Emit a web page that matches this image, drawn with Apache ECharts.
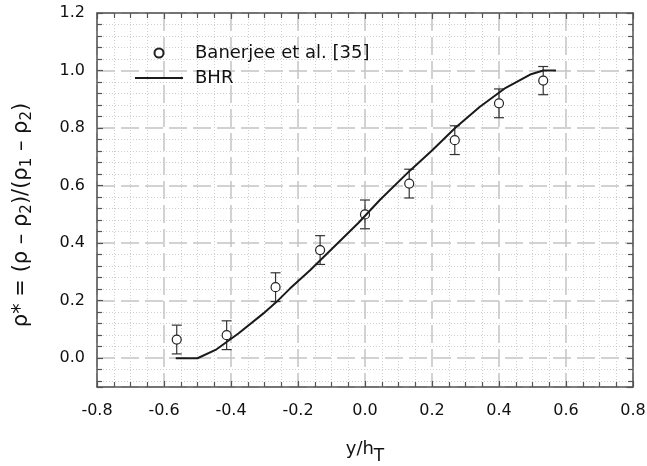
<!DOCTYPE html>
<html><head><meta charset="utf-8">
<script src="https://cdn.jsdelivr.net/npm/echarts@6/dist/echarts.min.js"></script>
<style>html,body{margin:0;padding:0;background:#fff}#c{width:647px;height:466px}</style>
</head><body><div id="c"></div>
<script>
// Experimental data (Banerjee et al. [35]) with error bars
const expX = [-0.562, -0.413, -0.267, -0.134, 0.0, 0.132, 0.268, 0.400, 0.532];
const expY = [0.065, 0.080, 0.247, 0.376, 0.500, 0.607, 0.758, 0.886, 0.965];
const expErr = [0.05, 0.05, 0.05, 0.05, 0.05, 0.05, 0.05, 0.05, 0.049];
// BHR model curve
const bhrX = [-0.565, -0.500, -0.443, -0.378, -0.304, -0.264, -0.224, -0.164, -0.090, -0.020, 0.045, 0.134, 0.200, 0.269, 0.343, 0.420, 0.493, 0.532, 0.570];
const bhrY = [0.000, 0.000, 0.031, 0.086, 0.155, 0.196, 0.242, 0.306, 0.390, 0.470, 0.551, 0.652, 0.722, 0.800, 0.874, 0.940, 0.986, 1.000, 1.000];
// Axis ranges
const xRange = [-0.8, 0.8];
const yRange = [-0.1, 1.2];
const seriesNames = ['Banerjee et al. [35]', 'BHR'];

const FONT = 'DejaVu Sans';
const fmt = v => (Math.abs(v) < 1e-9 ? 0 : v).toFixed(1);
const axisLineStyle = {color: '#555', width: 1.5};
const majorGrid = {show: true, lineStyle: {color: '#c4c4c4', width: 1.5, type: [18, 6]}};
const minorGrid = {show: true, lineStyle: {color: '#cfcfcf', width: 1, type: [1, 2]}};

function renderErr(params, api) {
  const x = api.value(0), lo = api.value(1), hi = api.value(2);
  const pLo = api.coord([x, lo]), pHi = api.coord([x, hi]);
  const w = 5;
  const st = {stroke: '#333', lineWidth: 1.2};
  return {type: 'group', children: [
    {type: 'line', shape: {x1: pLo[0], y1: pLo[1], x2: pHi[0], y2: pHi[1]}, style: st},
    {type: 'line', shape: {x1: pLo[0] - w, y1: pLo[1], x2: pLo[0] + w, y2: pLo[1]}, style: st},
    {type: 'line', shape: {x1: pHi[0] - w, y1: pHi[1], x2: pHi[0] + w, y2: pHi[1]}, style: st}
  ]};
}

const chart = echarts.init(document.getElementById('c'), null, {renderer: 'canvas'});
const baseX = {
  type: 'value', min: xRange[0], max: xRange[1], interval: 0.2,
  axisLine: {show: true, onZero: false, lineStyle: axisLineStyle},
  axisTick: {show: true, inside: true, length: 6, lineStyle: {color: '#555', width: 1.2}},
  minorTick: {show: true, splitNumber: 4, length: 5, lineStyle: {color: '#555', width: 1.2}}
};
const baseY = {
  type: 'value', min: yRange[0], max: yRange[1], splitNumber: 6, minInterval: 0.2, maxInterval: 0.2,
  axisLine: {show: true, onZero: false, lineStyle: axisLineStyle},
  axisTick: {show: true, inside: true, length: 6, lineStyle: {color: '#555', width: 1.2}},
  minorTick: {show: true, splitNumber: 5, length: 5, lineStyle: {color: '#555', width: 1.2}}
};
chart.setOption({
  animation: false,
  backgroundColor: '#fff',
  grid: {left: 97, right: 14, top: 13, bottom: 79, containLabel: false, outerBoundsMode: 'none'},
  legend: {
    orient: 'vertical', left: 135, top: 43, padding: 0, itemWidth: 48, itemHeight: 9, itemGap: 5,
    textStyle: {fontFamily: FONT, fontSize: 18, color: '#111', lineHeight: 20, padding: [0, 0, 0, 7]},
    data: [
      {name: seriesNames[0]},
      {name: seriesNames[1], icon: 'path://M0,0L48,0L48,2L0,2Z', itemStyle: {color: '#1a1a1a'}}
    ]
  },
  xAxis: [
    Object.assign({}, baseX, {
      position: 'bottom',
      name: 'y/h{s|T}', nameLocation: 'middle', nameGap: 47, nameMoveOverlap: false,
      nameTextStyle: {fontFamily: FONT, fontSize: 18, color: '#111',
        rich: {s: {fontFamily: FONT, fontSize: 17, color: '#111', padding: [14, 0, 0, 0]}}},
      axisLabel: {fontFamily: FONT, fontSize: 16, color: '#111', margin: 16, formatter: fmt},
      splitLine: majorGrid, minorSplitLine: minorGrid
    }),
    Object.assign({}, baseX, {position: 'top', axisLabel: {show: false}, splitLine: {show: false}})
  ],
  yAxis: [
    Object.assign({}, baseY, {
      position: 'left',
      name: 'ρ* = (ρ – ρ{s|2})/(ρ{s|1} – ρ{s|2})', nameLocation: 'middle', nameGap: 62, nameMoveOverlap: false,
      nameTextStyle: {fontFamily: FONT, fontSize: 21, color: '#111', padding: [0, 30, 0, 0],
        rich: {s: {fontFamily: FONT, fontSize: 15, color: '#111', padding: [12, 0, 0, 0]}}},
      axisLabel: {fontFamily: FONT, fontSize: 16, color: '#111', margin: 12, formatter: fmt, showMinLabel: false},
      splitLine: majorGrid, minorSplitLine: minorGrid
    }),
    Object.assign({}, baseY, {position: 'right', axisLabel: {show: false}, splitLine: {show: false}})
  ],
  series: [
    {
      type: 'custom', name: 'err', renderItem: renderErr, z: 3,
      encode: {x: 0, y: [1, 2]},
      data: expX.map((x, i) => [x, expY[i] - expErr[i], expY[i] + expErr[i]]),
      silent: true
    },
    {
      type: 'scatter', name: seriesNames[0], z: 4,
      symbol: 'circle', symbolSize: 9,
      itemStyle: {color: '#fff', borderColor: '#222', borderWidth: 1.2, opacity: 1},
      data: expX.map((x, i) => [x, expY[i]])
    },
    {
      type: 'line', name: seriesNames[1], z: 5,
      symbol: 'none', showSymbol: false,
      lineStyle: {color: '#1a1a1a', width: 2},
      itemStyle: {color: '#1a1a1a'},
      data: bhrX.map((x, i) => [x, bhrY[i]])
    }
  ]
});
</script>
</body></html>
